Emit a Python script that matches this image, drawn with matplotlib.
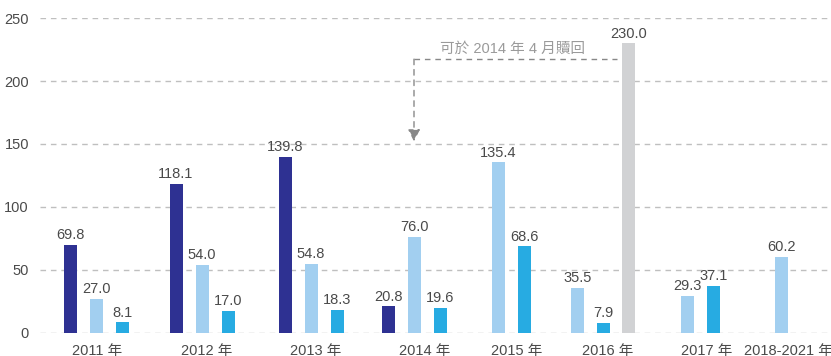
import matplotlib.pyplot as plt

plt.rcParams['font.family'] = ['Liberation Sans', 'Noto Sans CJK TC', 'DejaVu Sans']

years = ['2011 年', '2012 年', '2013 年', '2014 年', '2015 年', '2016 年', '2017 年', '2018-2021 年']
# None = no bar in that year
navy = [69.8, 118.1, 139.8, 20.8, None, None, None, None]
light = [27.0, 54.0, 54.8, 76.0, 135.4, 35.5, 29.3, 60.2]
blue = [8.1, 17.0, 18.3, 19.6, 68.6, 7.9, 37.1, None]
grey = [None, None, None, None, None, 230.0, None, None]
note = '可於 2014 年 4 月贖回'

# layout (horizontal units ~ pixels)
group_x = [96.5, 202, 311, 414.5, 498.5, 577.5, 687.5, 781.5]
label_x = [97, 207, 316, 425, 517, 608, 707, 788]
series = [(navy, -26, '#2e3192'), (light, 0, '#a2cff0'),
          (blue, 26, '#27abe2'), (grey, 51, '#d1d2d4')]

fig = plt.figure(figsize=(8.31, 3.56), dpi=100)
ax = fig.add_axes([40 / 831, 23.5 / 356, 791 / 831, 314.2 / 356])
ax.set_xlim(40, 831)
ax.set_ylim(0, 250)

for vals, off, col in series:
    for gx, v in zip(group_x, vals):
        if v is None:
            continue
        ax.bar(gx + off, v, width=13, color=col, zorder=3)
        ax.annotate('%.1f' % v, (gx + off, v), xytext=(0, 2), textcoords='offset points',
                    ha='center', va='bottom', fontsize=10.5, color='#4a4a4a', zorder=4)

# redemption note: dashed line from the grey bar back to 2014
top = 217.5
ax.plot([414, 617], [top, top], ls=(0, (4, 3.5)), color='#888888', lw=1, zorder=2)
ax.annotate('', xy=(414, 152), xytext=(414, top),
            arrowprops=dict(arrowstyle='-|>,head_length=0.6,head_width=0.3',
                            ls=(0, (4, 3.5)), color='#888888', lw=1,
                            mutation_scale=12, shrinkA=0, shrinkB=0), zorder=2)
ax.text(513, top + 2.5, note, ha='center', va='bottom', fontsize=10.5, color='#9a9a9a')

ax.set_yticks([0, 50, 100, 150, 200, 250])
ax.yaxis.grid(True, ls=(0, (4, 3.5)), color='#bfbfbf', lw=1)
ax.set_axisbelow(True)
ax.set_xticks(label_x)
ax.set_xticklabels(years)
ax.tick_params(length=0, labelsize=10.5, labelcolor='#4a4a4a')
ax.tick_params(axis='y', pad=8)
ax.tick_params(axis='x', pad=8)
for s in ax.spines.values():
    s.set_visible(False)

fig.savefig('out.png', dpi=100)
